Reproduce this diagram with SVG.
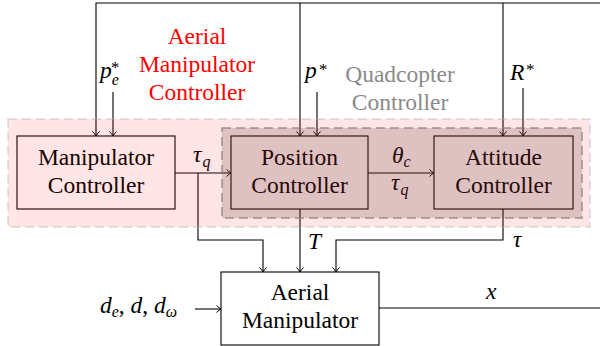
<svg xmlns="http://www.w3.org/2000/svg" width="600" height="346" viewBox="0 0 600 346">
<defs>
<marker id="arr" viewBox="-6 -5 8 10" markerWidth="8" markerHeight="10" refX="0" refY="0" orient="auto" markerUnits="userSpaceOnUse">
<path d="M-4.5,-3.5 Q-2,-1 0,0 Q-2,1 -4.5,3.5" fill="none" stroke="#000" stroke-width="1"/>
</marker>
</defs>
<g id="connectors" fill="none" stroke="#000" stroke-width="1.1">
<path d="M379,308 H603 V3 H96 V136" marker-end="url(#arr)"/>
<path d="M300,3 V136" marker-end="url(#arr)"/>
<path d="M503,3 V136" marker-end="url(#arr)"/>
<path d="M113,92 V136" marker-end="url(#arr)"/>
<path d="M317,92 V136" marker-end="url(#arr)"/>
<path d="M523,88 V136" marker-end="url(#arr)"/>
<path d="M175,173 H231" marker-end="url(#arr)"/>
<path d="M198,173 V240 H263 V272" marker-end="url(#arr)"/>
<path d="M368,173 H434" marker-end="url(#arr)"/>
<path d="M300,209 V272" marker-end="url(#arr)"/>
<path d="M503,209 V240 H336 V272" marker-end="url(#arr)"/>
<path d="M195,309 H221" marker-end="url(#arr)"/>
</g>
<g id="labels">
<text x="100" y="78" font-size="23.5" font-style="italic" font-family="Liberation Serif">p<tspan dy="7" font-size="16">e</tspan></text>
<text x="111" y="73" font-size="17" font-family="Liberation Serif">*</text>
<text x="305" y="78" font-size="23.5" font-style="italic" font-family="Liberation Serif">p</text>
<text x="319" y="75" font-size="17" font-family="Liberation Serif">*</text>
<text x="510" y="80" font-size="23.5" font-style="italic" font-family="Liberation Serif">R</text>
<text x="526" y="75" font-size="17" font-family="Liberation Serif">*</text>
<text x="193" y="162" font-size="23.5" font-style="italic" font-family="Liberation Serif">τ<tspan dx="1" dy="5" font-size="16">q</tspan></text>
<text x="392" y="163" font-size="23.5" font-style="italic" font-family="Liberation Serif">θ<tspan dy="4" font-size="16">c</tspan></text>
<text x="391" y="190" font-size="23.5" font-style="italic" font-family="Liberation Serif">τ<tspan dx="1" dy="5" font-size="16">q</tspan></text>
<text x="308" y="249" font-size="23.5" font-style="italic" font-family="Liberation Serif">T</text>
<text x="513" y="247" font-size="23.5" font-style="italic" font-family="Liberation Serif">τ</text>
<text x="486" y="299" font-size="23.5" font-style="italic" font-family="Liberation Serif">x</text>
<text x="100" y="313" font-size="23.5" font-style="italic" font-family="Liberation Serif">d<tspan dy="4" font-size="16">e</tspan><tspan dy="-4" font-style="normal">, </tspan>d<tspan font-style="normal">, </tspan>d<tspan dy="4" font-size="16">ω</tspan></text>
</g>
<g id="manipulator-controller">
<rect x="17" y="136" width="158" height="73" fill="#fff" stroke="#000" stroke-width="1.1"/>
<text x="96" y="165" font-size="23.5" font-family="Liberation Serif" text-anchor="middle">Manipulator</text>
<text x="96" y="193" font-size="23.5" font-family="Liberation Serif" text-anchor="middle">Controller</text>
</g>
<g id="position-controller">
<rect x="231" y="136" width="137" height="73" fill="#fff" stroke="#000" stroke-width="1.1"/>
<text x="299.5" y="165" font-size="23.5" font-family="Liberation Serif" text-anchor="middle">Position</text>
<text x="299.5" y="193" font-size="23.5" font-family="Liberation Serif" text-anchor="middle">Controller</text>
</g>
<g id="attitude-controller">
<rect x="434" y="136" width="139" height="73" fill="#fff" stroke="#000" stroke-width="1.1"/>
<text x="503.5" y="165" font-size="23.5" font-family="Liberation Serif" text-anchor="middle">Attitude</text>
<text x="503.5" y="193" font-size="23.5" font-family="Liberation Serif" text-anchor="middle">Controller</text>
</g>
<g id="aerial-manipulator">
<rect x="221" y="272" width="158" height="73" fill="#fff" stroke="#000" stroke-width="1.1"/>
<text x="300" y="300" font-size="23.5" font-family="Liberation Serif" text-anchor="middle">Aerial</text>
<text x="300" y="328" font-size="23.5" font-family="Liberation Serif" text-anchor="middle">Manipulator</text>
</g>
<g id="aerial-manipulator-controller">
<rect x="8" y="119" width="582" height="108" fill="#ff0000" fill-opacity="0.1" stroke="#b0b0b0" stroke-opacity="0.35" stroke-width="2" stroke-dasharray="9 5"/>
<text x="197" y="44" font-size="23.5" font-family="Liberation Serif" text-anchor="middle" fill="#ff0000">Aerial</text>
<text x="197" y="72" font-size="23.5" font-family="Liberation Serif" text-anchor="middle" fill="#ff0000">Manipulator</text>
<text x="197" y="100" font-size="23.5" font-family="Liberation Serif" text-anchor="middle" fill="#ff0000">Controller</text>
</g>
<g id="quadcopter-controller">
<rect x="222" y="128" width="360" height="90" fill="#5a3030" fill-opacity="0.2" stroke="#808080" stroke-opacity="0.6" stroke-width="2" stroke-dasharray="9 5"/>
<text x="400" y="82" font-size="23.5" font-family="Liberation Serif" text-anchor="middle" fill="#8a8a8a">Quadcopter</text>
<text x="400" y="110" font-size="23.5" font-family="Liberation Serif" text-anchor="middle" fill="#8a8a8a">Controller</text>
</g>
</svg>
